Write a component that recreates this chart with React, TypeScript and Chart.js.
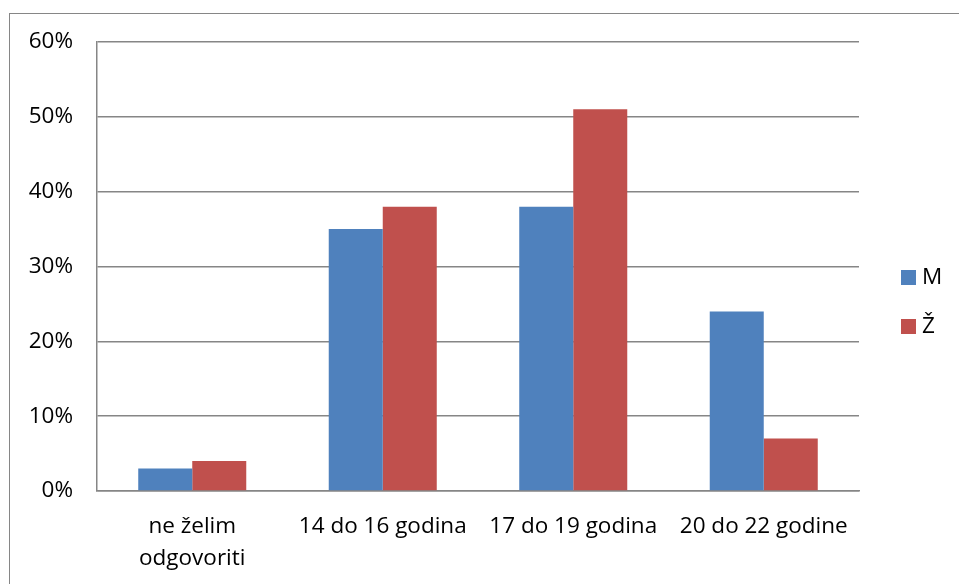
import React, { useEffect, useRef } from "react";
import { Chart, registerables } from "chart.js";

Chart.register(...registerables);

const categories: (string | string[])[] = [
  ["ne želim", "odgovoriti"],
  "14 do 16 godina",
  "17 do 19 godina",
  "20 do 22 godine",
];
const seriesM = [3, 35, 38, 24];
const seriesZ = [4, 38, 51, 7];
const seriesNames = ["M", "Ž"];
const seriesColors = ["#4F81BD", "#C0504D"];

const FONT = "'Open Sans', 'Noto Sans', sans-serif";
const FONT_SIZE = 22.5;

const legendPlugin = {
  id: "customLegend",
  afterDraw(chart: any) {
    const ctx = chart.ctx;
    ctx.save();
    ctx.font = `${FONT_SIZE}px ${FONT}`;
    ctx.textBaseline = "middle";
    ctx.textAlign = "left";
    chart.data.datasets.forEach((ds: any, i: number) => {
      const y = 277 + i * 49;
      ctx.fillStyle = ds.backgroundColor;
      ctx.fillRect(901, y - 7, 15, 15);
      ctx.fillStyle = "#000";
      ctx.fillText(ds.label, 922, y + 1);
    });
    ctx.restore();
  },
};

export default function App() {
  const ref = useRef<HTMLCanvasElement>(null);
  useEffect(() => {
    if (!ref.current) return;
    const chart = new Chart(ref.current, {
      type: "bar",
      data: {
        labels: categories,
        datasets: [
          { label: seriesNames[0], data: seriesM, backgroundColor: seriesColors[0] },
          { label: seriesNames[1], data: seriesZ, backgroundColor: seriesColors[1] },
        ],
      },
      plugins: [legendPlugin],
      options: {
        animation: false,
        responsive: false,
        devicePixelRatio: 1,
        layout: { padding: { top: 42, right: 100, left: 0, bottom: 0 } },
        plugins: { legend: { display: false }, tooltip: { enabled: false } },
        datasets: { bar: { categoryPercentage: 0.567, barPercentage: 1 } },
        scales: {
          x: {
            grid: { display: false, drawTicks: false },
            border: { color: "#868686", width: 1.5 },
            ticks: {
              color: "#000",
              font: { family: FONT, size: FONT_SIZE, lineHeight: 1.42 },
              padding: 20,
              maxRotation: 0,
              autoSkip: false,
            },
            afterFit(scale: any) {
              scale.height = 93;
            },
          },
          y: {
            min: 0,
            max: 60,
            ticks: {
              stepSize: 10,
              color: "#000",
              font: { family: FONT, size: FONT_SIZE },
              padding: 24,
              callback: (v: any) => `${v}%`,
            },
            grid: { color: "#868686", lineWidth: 1.5, drawTicks: false },
            border: { color: "#868686", width: 1.5 },
            afterFit(scale: any) {
              scale.width = 97;
            },
          },
        },
      },
    });
    return () => chart.destroy();
  }, []);
  return (
    <div style={{ position: "fixed", left: 0, top: 0, width: 959, height: 584, background: "#fff", overflow: "hidden" }}>
      <div
        style={{
          position: "absolute",
          left: 9,
          top: 13,
          width: 980,
          height: 600,
          border: "1.5px solid #868686",
          boxSizing: "border-box",
        }}
      />
      <canvas ref={ref} width={959} height={584} style={{ position: "absolute", left: 0, top: 0 }} />
    </div>
  );
}
